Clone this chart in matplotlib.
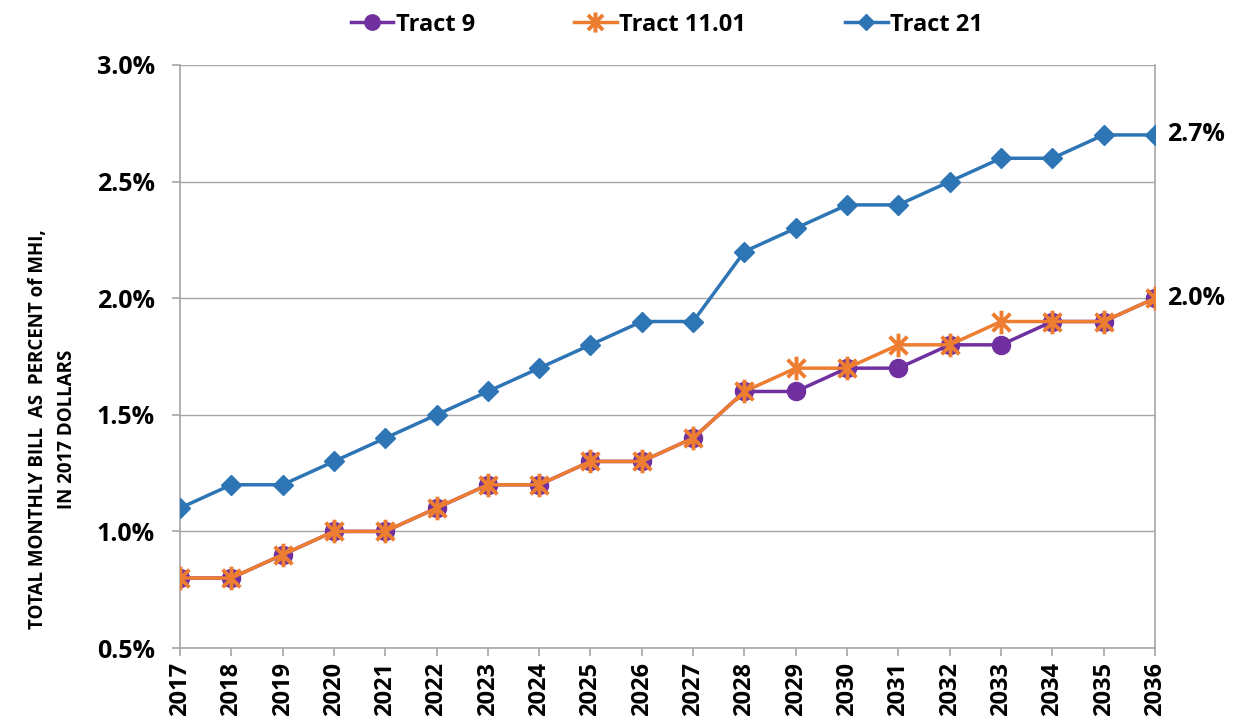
import matplotlib.pyplot as plt
import numpy as np
from matplotlib.path import Path

plt.rcParams['font.family'] = ['Open Sans', 'DejaVu Sans']
plt.rcParams['font.weight'] = 'bold'

years = list(range(2017, 2037))
tract_9 = [0.8, 0.8, 0.9, 1.0, 1.0, 1.1, 1.2, 1.2, 1.3, 1.3,
           1.4, 1.6, 1.6, 1.7, 1.7, 1.8, 1.8, 1.9, 1.9, 2.0]
tract_1101 = [0.8, 0.8, 0.9, 1.0, 1.0, 1.1, 1.2, 1.2, 1.3, 1.3,
              1.4, 1.6, 1.7, 1.7, 1.8, 1.8, 1.9, 1.9, 1.9, 2.0]
tract_21 = [1.1, 1.2, 1.2, 1.3, 1.4, 1.5, 1.6, 1.7, 1.8, 1.9,
            1.9, 2.2, 2.3, 2.4, 2.4, 2.5, 2.6, 2.6, 2.7, 2.7]

# excel style star: an X with a vertical bar through it
star = Path([(0, -1), (0, 1), (-0.75, -0.75), (0.75, 0.75), (-0.75, 0.75), (0.75, -0.75)],
            [Path.MOVETO, Path.LINETO, Path.MOVETO, Path.LINETO, Path.MOVETO, Path.LINETO])

fig = plt.figure(figsize=(12.35, 7.26), dpi=100)
ax = fig.add_axes([0.1457, 0.1074, 0.7895, 0.8031])

x = np.arange(len(years))
ax.plot(x, tract_9, color='#7030A0', lw=2.5, marker='o', ms=13, label='Tract 9', zorder=3)
ax.plot(x, tract_1101, color='#ED7D31', lw=2.5, marker=star, ms=17, mew=2.8,
        label='Tract 11.01', zorder=4)
ax.plot(x, tract_21, color='#2E75B6', lw=2.5, marker='D', ms=10, label='Tract 21', zorder=3)

ax.set_xlim(0, len(years) - 1)
ax.set_ylim(0.5, 3.0)
ax.set_yticks(np.arange(0.5, 3.01, 0.5))
ax.set_yticklabels([f'{v:.1f}%' for v in np.arange(0.5, 3.01, 0.5)], fontsize=18, fontweight='bold')
ax.set_xticks(x)
ax.set_xticklabels([str(y) for y in years], rotation=90, fontsize=17, fontweight='bold')
ax.grid(axis='y', color='#a6a6a6', lw=1)
ax.set_axisbelow(True)
ax.spines['top'].set_visible(False)
for s in ['left', 'bottom', 'right']:
    ax.spines[s].set_color('#a6a6a6')
    ax.spines[s].set_linewidth(1.2)
ax.tick_params(axis='both', color='#a6a6a6', length=6, width=1.2)
ax.tick_params(axis='x', pad=4)
ax.tick_params(axis='y', pad=12)

ax.set_ylabel('TOTAL MONTHLY BILL  AS  PERCENT of MHI,\nIN 2017 DOLLARS', fontsize=13.5,
              fontweight='bold', linespacing=1.6)
ax.yaxis.set_label_coords(-0.106, 0.375)

ax.annotate(f'{tract_21[-1]:.1f}%', (x[-1], tract_21[-1]), xytext=(9, 0),
            textcoords='offset points', va='center', fontsize=18, fontweight='bold',
            annotation_clip=False)
ax.annotate(f'{tract_1101[-1]:.1f}%', (x[-1], tract_1101[-1]), xytext=(9, 0),
            textcoords='offset points', va='center', fontsize=18, fontweight='bold',
            annotation_clip=False)

leg = fig.legend(loc='upper center', bbox_to_anchor=(0.54, 1.012), ncol=3, frameon=False,
                 columnspacing=4.2, handlelength=1.8, handletextpad=0.1,
                 prop={'weight': 'bold', 'size': 17}, markerscale=0.85)

fig.savefig('out.png', dpi=100)
